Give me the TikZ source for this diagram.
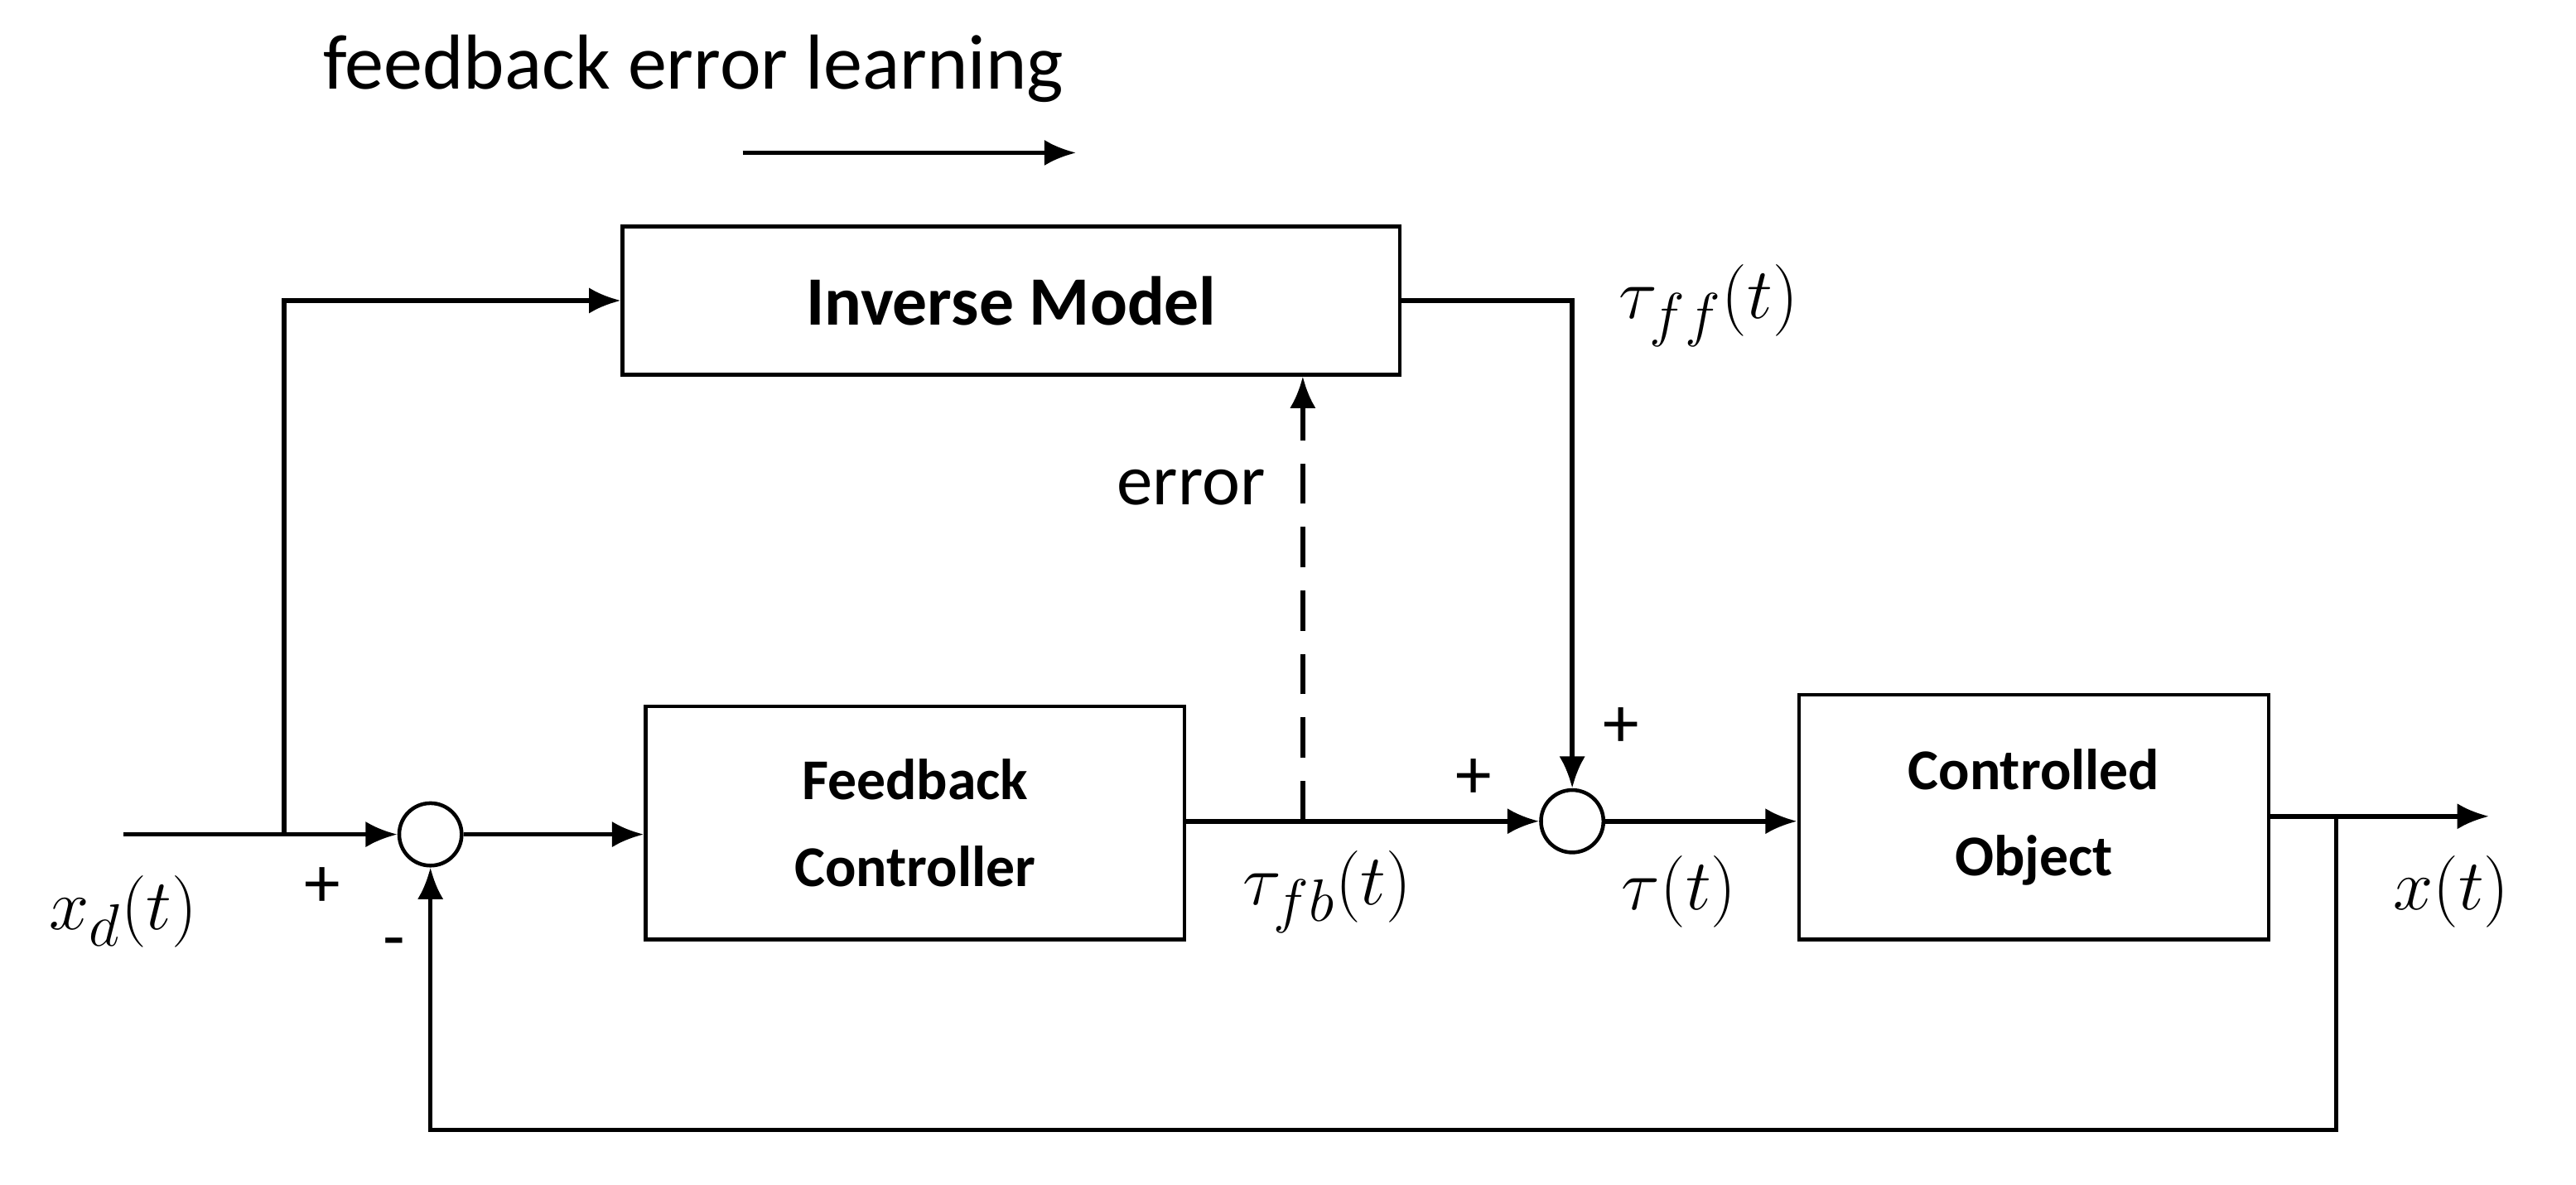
\documentclass[tikz,border=0pt]{standalone}
\usepackage{fontspec}
\setmainfont{Carlito}
\usetikzlibrary{arrows.meta}
\begin{document}
\begin{tikzpicture}[x=0.02cm,y=-0.02cm,
  line width=1.6pt,
  blk/.style={draw,line width=1.3pt,inner sep=0,font=\fontsize{20}{24}\selectfont\bfseries,align=center},
  sumn/.style={draw,circle,line width=1.3pt,minimum size=0.76cm,inner sep=0},
  arr/.style={-{Latex[length=11pt,width=9pt]}},
  lab/.style={font=\fontsize{25}{30}\selectfont},
  mlab/.style={font=\fontsize{28}{32}\selectfont}]
\useasboundingbox (0,0) rectangle (1568,721);
\node[font=\fontsize{27}{32}\selectfont] (title) at (422,42) {feedback error learning};
\coordinate (ta) at (452,93); \coordinate (tb) at (655,93);
\draw[arr] (ta) -- (tb);
\node[blk,minimum width=473*0.02cm,minimum height=90*0.02cm,font=\fontsize{24}{28}\selectfont\bfseries] (im) at (615.5,183) {Inverse Model};
\node[blk,minimum width=328*0.02cm,minimum height=142*0.02cm] (fc) at (557,501) {Feedback\\[6pt]Controller};
\node[blk,minimum width=286*0.02cm,minimum height=149*0.02cm] (co) at (1238,497.5) {Controlled\\[6pt]Object};
\node[sumn] (s1) at (262,508) {};
\node[sumn] (s2) at (957,500) {};
\coordinate (in) at (75,508);
\coordinate (br) at (173,508);
\coordinate (out) at (1515,497);
\coordinate (fbr) at (1422,497);
\coordinate (dash) at (793,500);
\draw (in) -- (br);
\draw[arr] (br) -- (s1.west);
\draw[arr] (br) |- (im.west);
\draw[arr] (s1.east) -- (fc.west |- s1);
\draw[arr] (fc.east |- s2) -- (s2.west);
\draw[arr,dash pattern=on 14pt off 8pt] (dash) -- (dash |- im.south);
\draw[arr] (im.east) -| (s2.north);
\draw[arr] (s2.east) -- (co.west |- s2);
\draw[arr] (co.east |- out) -- (out);
\draw[arr] (fbr) -- (1422,688) -| (s1.south);
\node[mlab] (xd) at (75,555) {$x_d(t)$};
\node[lab] (p1) at (196,540) {+};
\node[lab] (m1) at (240,578) {-};
\node[lab] (err) at (725,297) {error};
\node[mlab] (tff) at (1040,186) {$\tau_{ff}(t)$};
\node[lab] (p2) at (987,443) {+};
\node[lab] (p3) at (897,474) {+};
\node[mlab] (tfb) at (808,543) {$\tau_{fb}(t)$};
\node[mlab] (tt) at (1022,543) {$\tau(t)$};
\node[mlab] (xt) at (1492,543) {$x(t)$};
\end{tikzpicture}
\end{document}
